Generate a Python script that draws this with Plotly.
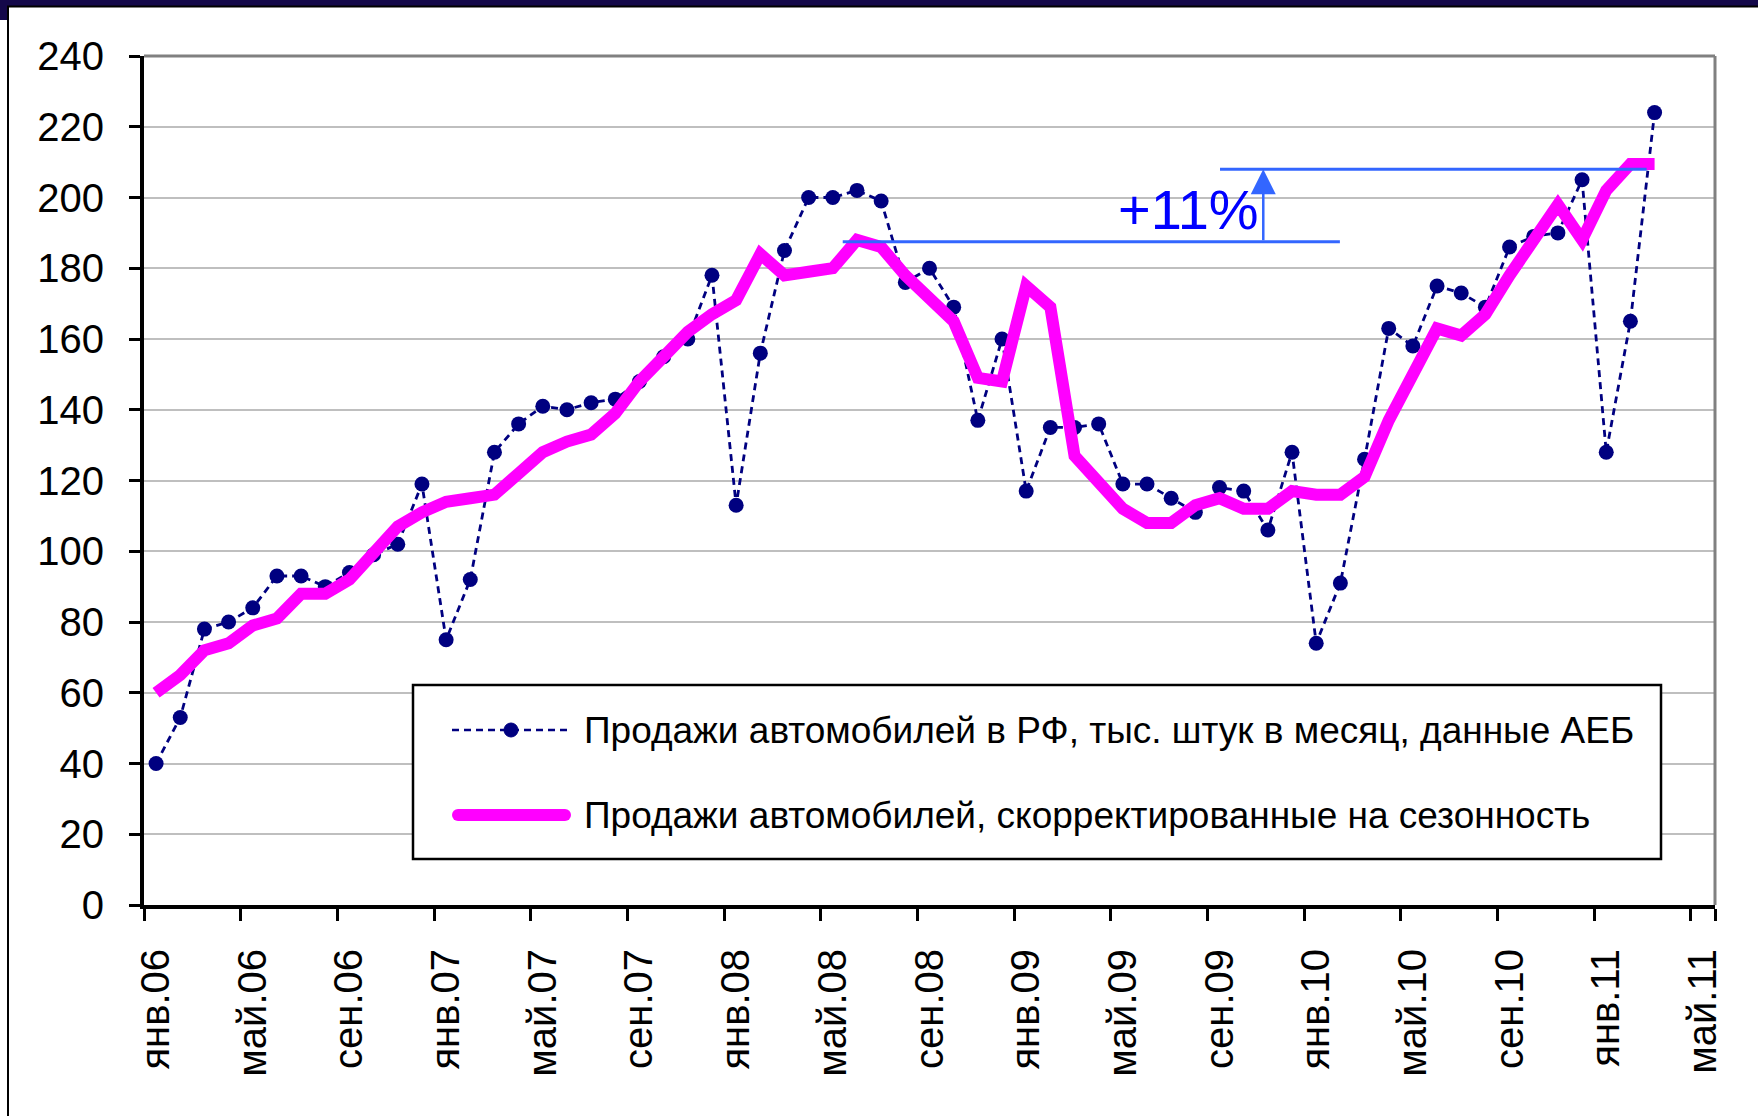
import plotly.graph_objects as go

# ---------------- data ----------------
months = [
    "янв.06", "фев.06", "мар.06", "апр.06", "май.06", "июн.06", "июл.06", "авг.06", "сен.06", "окт.06", "ноя.06", "дек.06",
    "янв.07", "фев.07", "мар.07", "апр.07", "май.07", "июн.07", "июл.07", "авг.07", "сен.07", "окт.07", "ноя.07", "дек.07",
    "янв.08", "фев.08", "мар.08", "апр.08", "май.08", "июн.08", "июл.08", "авг.08", "сен.08", "окт.08", "ноя.08", "дек.08",
    "янв.09", "фев.09", "мар.09", "апр.09", "май.09", "июн.09", "июл.09", "авг.09", "сен.09", "окт.09", "ноя.09", "дек.09",
    "янв.10", "фев.10", "мар.10", "апр.10", "май.10", "июн.10", "июл.10", "авг.10", "сен.10", "окт.10", "ноя.10", "дек.10",
    "янв.11", "фев.11", "мар.11", "апр.11", "май.11",
]
tick_labels = ["янв.06", "май.06", "сен.06", "янв.07", "май.07", "сен.07", "янв.08", "май.08", "сен.08",
               "янв.09", "май.09", "сен.09", "янв.10", "май.10", "сен.10", "янв.11", "май.11"]

# Monthly car sales in Russia, thousand units (AEB data)
sales = [
    40, 53, 78, 80, 84, 93, 93, 90, 94, 99, 102, 119,
    75, 92, 128, 136, 141, 140, 142, 143, 148, 155, 160, 178,
    113, 156, 185, 200, 200, 202, 199, 176, 180, 169, 137, 160,
    117, 135, 135, 136, 119, 119, 115, 111, 118, 117, 106, 128,
    74, 91, 126, 163, 158, 175, 173, 169, 186, 189, 190, 205,
    128, 165, 224,
]
# Seasonally adjusted sales
sales_sa = [
    60, 65, 72, 74, 79, 81, 88, 88, 92, 99, 107, 111,
    114, 115, 116, 122, 128, 131, 133, 139, 148, 155, 162, 167,
    171, 184, 178, 179, 180, 188, 186, 178, 171, 165, 149, 148,
    175, 169, 127, 119, 112, 108, 108, 113, 115, 112, 112, 117,
    116, 116, 121, 137, 150, 163, 161, 167, 178, 188, 198, 188,
    202, 209.5, 209.5,
]

series_names = ["Продажи автомобилей в РФ, тыс. штук в месяц, данные АЕБ",
                "Продажи автомобилей, скорректированные на сезонность"]

base_level = 187.5     # pre-crisis peak (seasonally adjusted)
top_level = 208        # current level
growth_label = "+11%"

# ---------------- layout geometry ----------------
W, H = 1758, 1116
ML, MR, MT, MB = 144, 43, 56, 211
PW = W - ML - MR
PH = H - MT - MB


def px(x):
    return (x - ML) / PW


def py(y):
    return (H - MB - y) / PH


FONT = "Arial, Liberation Sans, sans-serif"
NAVY = "#000080"
MAGENTA = "#FF00FF"
ABLUE = "#3366FF"

fig = go.Figure()

fig.add_trace(go.Scatter(
    x=months[:len(sales)], y=sales, mode="lines+markers", name=series_names[0],
    line=dict(color=NAVY, width=2.8, dash="7px,5px"),
    marker=dict(size=15, color=NAVY),
    showlegend=False,
))
fig.add_trace(go.Scatter(
    x=months[:len(sales_sa)], y=sales_sa, mode="lines", name=series_names[1],
    line=dict(color=MAGENTA, width=12),
    showlegend=False,
))

shapes = []
# plot-area top and right border (gray)
shapes.append(dict(type="line", xref="paper", yref="paper", x0=0, x1=1, y0=1, y1=1,
                   line=dict(color="#808080", width=3)))
shapes.append(dict(type="line", xref="paper", yref="paper", x0=1, x1=1, y0=0, y1=1,
                   line=dict(color="#808080", width=3)))

# +11% guide lines
shapes.append(dict(type="line", xref="x", yref="y", x0=28.41, x1=48.98, y0=base_level, y1=base_level,
                   line=dict(color=ABLUE, width=3)))
shapes.append(dict(type="line", xref="x", yref="y", x0=44.02, x1=61.67, y0=top_level, y1=top_level,
                   line=dict(color=ABLUE, width=3)))

# manual legend
shapes.append(dict(type="rect", xref="paper", yref="paper", x0=px(413), x1=px(1661), y0=py(859), y1=py(685),
                   line=dict(color="black", width=2.5), fillcolor="white", layer="above"))
shapes.append(dict(type="line", xref="paper", yref="paper", x0=px(452), x1=px(570), y0=py(730), y1=py(730),
                   line=dict(color=NAVY, width=2.5, dash="7px,5px"), layer="above"))
shapes.append(dict(type="circle", xref="paper", yref="paper", x0=px(504), x1=px(518), y0=py(737), y1=py(723),
                   line=dict(color=NAVY, width=1), fillcolor=NAVY, layer="above"))
shapes.append(dict(type="line", xref="paper", yref="paper", x0=px(458), x1=px(565), y0=py(815), y1=py(815),
                   line=dict(color=MAGENTA, width=12), layer="above"))
for cx in (458, 565):
    shapes.append(dict(type="circle", xref="paper", yref="paper", x0=px(cx - 6), x1=px(cx + 6),
                       y0=py(815 + 6), y1=py(815 - 6),
                       line=dict(width=0), fillcolor=MAGENTA, layer="above"))

# outer frame
NAVYBG = "#14084A"
shapes.append(dict(type="rect", xref="paper", yref="paper", x0=px(0), x1=px(W), y0=py(6), y1=py(0),
                   line=dict(width=0), fillcolor=NAVYBG))
shapes.append(dict(type="rect", xref="paper", yref="paper", x0=px(0), x1=px(7), y0=py(20), y1=py(0),
                   line=dict(width=0), fillcolor=NAVYBG))
shapes.append(dict(type="line", xref="paper", yref="paper", x0=px(7), x1=px(W), y0=py(6.5), y1=py(6.5),
                   line=dict(color="black", width=2)))
shapes.append(dict(type="line", xref="paper", yref="paper", x0=px(8), x1=px(8), y0=py(6), y1=py(H),
                   line=dict(color="black", width=2)))

annotations = [
    dict(x=45.81, y=top_level, ax=45.81, ay=base_level, xref="x", yref="y", axref="x", ayref="y",
         text="", showarrow=True, arrowhead=2, arrowsize=2, arrowwidth=2.5, arrowcolor=ABLUE, standoff=0),
    dict(x=42.7, y=196.5, xref="x", yref="y", text=growth_label, showarrow=False,
         font=dict(family=FONT, size=56, color="#0000FF"), xanchor="center", yanchor="middle"),
    dict(x=px(582), y=py(730), xref="paper", yref="paper", text=series_names[0], showarrow=False,
         xanchor="left", yanchor="middle", font=dict(family=FONT, size=37, color="black")),
    dict(x=px(582), y=py(815), xref="paper", yref="paper", text=series_names[1], showarrow=False,
         xanchor="left", yanchor="middle", font=dict(family=FONT, size=37, color="black")),
]

fig.update_layout(
    width=W, height=H,
    margin=dict(l=ML, r=MR, t=MT, b=MB, pad=0),
    paper_bgcolor="white", plot_bgcolor="white",
    font=dict(family=FONT, color="black"),
    showlegend=False,
    shapes=shapes,
    annotations=annotations,
    xaxis=dict(
        type="category", categoryorder="array", categoryarray=months,
        range=[-0.5, len(months) - 0.5],
        tickmode="array", tickvals=tick_labels, ticktext=tick_labels,
        tickson="boundaries", ticks="outside", ticklen=12, tickwidth=3, tickcolor="black",
        tickangle=-90, tickfont=dict(family=FONT, size=40, color="black"),
        ticklabelstandoff=24,
        showline=True, linecolor="black", linewidth=4, showgrid=False, zeroline=False,
    ),
    yaxis=dict(
        range=[0, 240], tickmode="linear", tick0=0, dtick=20,
        ticks="outside", ticklen=11, tickwidth=3, tickcolor="black",
        tickfont=dict(family=FONT, size=40, color="black"),
        ticklabelstandoff=17,
        showline=True, linecolor="black", linewidth=4,
        showgrid=True, gridcolor="#BFBFBF", gridwidth=2, zeroline=False,
    ),
)

# remove the browser's default 8px body margin so the figure sits at the page origin
fig.write_html("out.html", config={"displayModeBar": False},
               post_script="document.body.style.margin='0px';")
